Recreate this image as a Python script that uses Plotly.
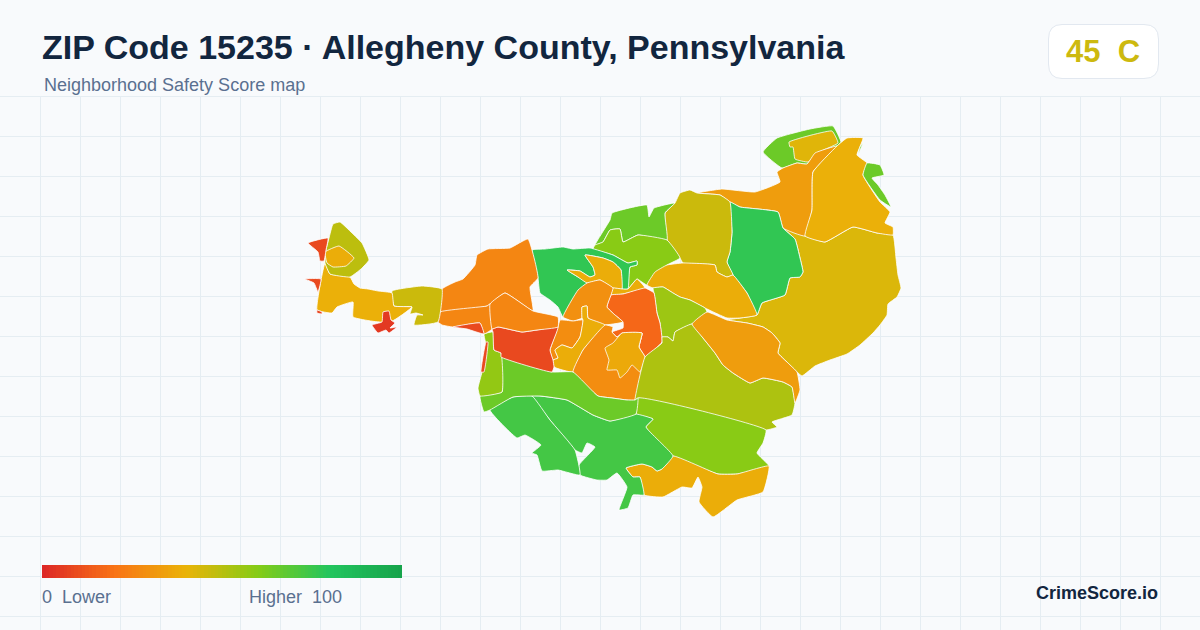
import numpy as np
import plotly.graph_objects as go
from plotly.colors import sample_colorscale

# Score legend colours
score_scale = [
    [0.0, "#dc2626"], [0.2, "#f97316"], [0.4, "#eab308"],
    [0.6, "#84cc16"], [0.8, "#22c55e"], [1.0, "#16a34a"],
]

# Outlines, (x, y) on the 1200x630 canvas
east_large = [(783,228),(805,236),(825,242),(853,227),(877,233),(893,235),(896,258),(898,275),(901,288),(897,297),(888,304),(887,315),(880,325),(873,333),(860,345),(847,354),(830,360),(815,366),(802,376),(797,372),(788,363),(778,353),(780,343),(772,333),(763,327),(747,323),(727,320),(740,318),(757,315),(762,303),(785,295),(790,278),(800,277),(803,272),(800,258),(795,239)]
north_top_green = [(763,152),(777,138),(810,129),(833,126),(841,142),(837,146),(815,153),(807,164),(797,163),(782,168)]
north_top_inset = [(789,142),(832,131),(838,143),(817,153),(808,162),(795,159),(793,147),(790,147)]
north_orange = [(697,193),(722,189),(755,192),(780,182),(777,172),(783,168),(797,163),(807,164),(815,153),(837,146),(813,172),(812,210),(805,236),(783,228),(778,212),(740,207),(730,202),(720,195)]
northeast_yellow = [(847,138),(863,138),(857,155),(867,163),(863,175),(880,202),(890,212),(885,223),(893,227),(893,235),(877,233),(853,227),(825,242),(805,236),(812,210),(813,172),(837,146)]
northeast_strip = [(867,163),(880,165),(884,175),(872,178),(878,185),(885,195),(891,207),(880,200),(863,175)]
northeast_sliver = [(860,147),(863,143),(858,155)]
north_green = [(730,202),(740,207),(778,212),(783,228),(795,239),(800,258),(803,272),(800,277),(790,278),(785,295),(762,303),(757,315),(747,293),(733,275),(727,262),(730,252),(732,232)]
north_olive = [(665,213),(675,203),(680,193),(690,190),(697,193),(720,195),(730,202),(732,232),(730,252),(727,262),(733,275),(727,277),(717,272),(715,265),(683,263),(680,258),(667,240)]
upper_green = [(612,213),(647,205),(649,217),(654,208),(675,203),(665,213),(667,240),(638,235),(623,242),(620,229),(610,230),(603,242),(595,245),(610,220)]
upper_lime = [(595,245),(603,242),(610,230),(620,229),(623,242),(638,235),(667,240),(680,258),(667,265),(647,285),(637,279),(628,289),(630,267),(637,265),(637,261),(628,263),(613,255),(593,249)]
center_right_yellow = [(647,285),(655,272),(667,265),(683,263),(715,265),(717,272),(727,277),(733,275),(747,293),(757,315),(740,318),(727,318),(705,308),(690,300),(680,297),(673,293),(663,287),(653,288)]
river_green = [(532,250),(545,249),(563,247),(573,249),(590,248),(613,255),(628,263),(637,261),(637,265),(630,267),(628,289),(622,289),(621,270),(613,262),(603,258),(585,255),(593,267),(595,275),(590,277),(580,271),(567,270),(578,277),(587,283),(563,317),(558,307),(550,300),(540,293),(538,278)]
river_yellow = [(585,255),(603,258),(613,262),(621,270),(622,289),(613,288),(600,280),(587,283),(578,277),(567,270),(580,271),(590,277),(595,275),(593,267)]
river_yellow_small = [(622,289),(628,289),(637,279),(645,288),(623,294),(611,295),(613,288)]
center_lime = [(653,288),(663,287),(673,293),(680,297),(690,300),(705,308),(707,312),(692,324),(675,332),(673,341),(668,337),(662,337),(660,323),(657,313),(654,293)]
center_red = [(611,295),(623,294),(645,288),(654,293),(657,313),(660,323),(662,342),(645,357),(639,347),(642,333),(622,333),(617,337),(612,332),(623,328),(623,322),(615,315),(607,307)]
center_orange = [(563,317),(578,290),(587,283),(600,280),(613,288),(611,295),(607,307),(615,315),(623,322),(603,325),(588,318),(587,306),(582,307),(582,318),(573,321)]
center_left_orange = [(560,320),(573,321),(583,320),(580,337),(572,348),(562,345),(555,350),(558,358),(553,360),(550,350),(558,327)]
center_left_yellow = [(582,307),(587,306),(588,318),(605,325),(583,350),(573,372),(554,367),(553,360),(558,358),(555,350),(562,345),(572,348),(580,337),(583,320),(582,318)]
lower_orange = [(605,325),(613,327),(612,332),(617,337),(642,333),(639,347),(645,357),(635,400),(627,400),(612,398),(598,396),(573,372),(583,350)]
lower_inset = [(605,348),(613,343),(622,333),(642,333),(639,347),(645,357),(640,372),(632,365),(627,372),(620,378),(617,370),(607,370),(609,360)]
southeast_orange = [(692,324),(707,312),(727,320),(747,323),(763,327),(772,333),(780,343),(778,353),(788,363),(797,372),(800,390),(795,403),(792,387),(783,382),(763,378),(750,383),(733,373),(723,365),(715,353),(703,338)]
southeast_olive = [(645,357),(662,343),(662,337),(668,337),(673,341),(675,332),(692,324),(703,338),(715,353),(723,365),(733,373),(750,383),(763,378),(783,382),(792,387),(795,403),(792,415),(772,422),(777,427),(766,430),(638,398),(635,400)]
south_lime = [(638,398),(766,430),(763,443),(757,453),(769,466),(737,474),(718,474),(673,456),(646,427),(653,419),(636,414)]
south_yellow = [(626,468),(642,464),(652,467),(657,471),(662,469),(673,456),(718,474),(737,474),(769,466),(763,492),(737,500),(713,517),(699,502),(702,487),(698,477),(692,488),(682,487),(663,497),(644,495),(640,477),(633,477)]
south_green = [(532,396),(540,396),(567,400),(593,415),(610,421),(636,414),(653,419),(646,427),(673,456),(662,469),(657,471),(652,467),(642,464),(626,468),(633,477),(640,477),(644,495),(633,495),(628,508),(619,510),(627,487),(617,473),(607,480),(597,480),(580,475),(579,465),(595,447),(587,443),(582,453),(575,450),(550,420)]
southwest_green = [(490,410),(513,397),(532,396),(550,420),(575,450),(580,475),(558,470),(542,471),(537,455),(532,453),(541,445),(525,435),(517,438)]
band_green = [(501,357),(552,372),(573,372),(598,396),(612,398),(627,400),(635,400),(638,398),(636,414),(610,421),(593,415),(567,400),(540,396),(513,397),(490,410),(484,412),(480,396),(502,392)]
west_lime = [(484,334),(493,332),(494,350),(501,353),(502,392),(480,396),(478,388),(482,372),(486,345)]
west_red_strip = [(486,342),(488,342),(484,372),(481,372)]
big_red = [(492,329),(498,327),(522,332),(537,330),(558,327),(550,350),(553,360),(554,367),(552,372),(501,357),(501,353),(494,350),(493,332)]
nw_orange = [(442,289),(455,282),(463,279),(475,265),(477,255),(488,249),(510,248),(528,239),(538,278),(530,287),(533,311),(505,293),(487,306),(440,312)]
nw_orange_low = [(440,312),(487,306),(490,304),(492,329),(484,334),(480,323),(453,327),(442,325),(438,322)]
nw_red_small = [(453,327),(480,323),(484,334),(467,329)]
nw_orange_mid = [(490,304),(505,293),(533,311),(558,317),(558,327),(537,330),(522,332),(498,327),(492,329)]
arm_olive = [(392,291),(422,286),(442,289),(438,322),(414,325),(417,315),(423,315),(416,313),(410,314),(412,307),(394,306)]
arm_yellow = [(325,263),(330,274),(350,277),(354,284),(360,288),(368,289),(378,291),(392,293),(394,306),(412,307),(392,321),(387,312),(383,322),(353,317),(353,302),(337,307),(332,313),(317,310),(321,280)]
arm_red = [(383,312),(389,311),(391,320),(395,323),(390,328),(397,327),(389,333),(386,330),(378,333),(372,325),(382,322)]
tip_olive = [(333,224),(340,222),(352,233),(362,243),(369,260),(361,269),(350,277),(330,274),(325,263),(326,250),(329,238)]
tip_inset = [(325,252),(339,246),(354,258),(346,266),(333,267),(327,263)]
tip_red = [(308,243),(328,238),(326,250),(324,261),(320,261),(318,252)]
tip_red_west = [(305,279),(321,279),(318,292),(314,283)]
tip_red_low = [(317,310),(322,312),(322,314),(317,313)]

districts = [east_large, north_top_green, north_top_inset, north_orange, northeast_yellow, northeast_strip, northeast_sliver,
             north_green, north_olive, upper_green, upper_lime, center_right_yellow, river_green, river_yellow, river_yellow_small,
             center_lime, center_red, center_orange, center_left_orange, center_left_yellow, lower_orange, lower_inset,
             southeast_olive, southeast_orange, south_lime, south_yellow, south_green, southwest_green, band_green, west_lime,
             west_red_strip, big_red, nw_orange, nw_orange_low, nw_red_small, nw_orange_mid, arm_olive, arm_yellow, arm_red,
             tip_olive, tip_inset, tip_red, tip_red_west, tip_red_low]
scores = [43, 65, 42, 33, 39, 65, 65,
          77, 46, 65, 59, 38, 77, 38, 38,
          55, 17, 29, 28, 38, 28, 37,
          52, 33, 59, 38, 73, 73, 65, 57,
          9, 9, 26, 26, 9, 26, 46, 39, 5,
          49, 38, 9, 9, 8]

legend_scores = np.arange(0.5, 100)

fig = go.Figure()

for outline, score in zip(districts, scores):
    xs = [p[0] for p in outline] + [outline[0][0]]
    ys = [p[1] for p in outline] + [outline[0][1]]
    fig.add_trace(go.Scatter(
        x=xs, y=ys, mode="lines", fill="toself",
        fillcolor=sample_colorscale(score_scale, score / 100)[0],
        line=dict(color="#ffffff", width=0.8, shape="spline", smoothing=0.35),
        hoverinfo="skip", showlegend=False,
    ))

# Legend ramp
fig.add_trace(go.Heatmap(
    z=[legend_scores], x0=43.8, dx=3.6, y0=571.5, dy=13,
    colorscale=score_scale, zmin=0, zmax=100, showscale=False, hoverinfo="skip",
))

ink = "#12263f"
muted = "#5a7090"
font = "Liberation Sans"


def label(x, y, text, size, color, anchor="left", bold=False):
    fig.add_annotation(
        x=x, y=y, text=f"<b>{text}</b>" if bold else text, showarrow=False,
        xanchor=anchor, yanchor="middle", borderpad=0, borderwidth=0,
        font=dict(family=font, size=size, color=color),
    )


label(42, 47, "ZIP Code 15235 · Allegheny County, Pennsylvania", 34, ink, bold=True)
label(44, 85, "Neighborhood Safety Score map", 18, muted)
label(1103, 51, "45  C", 31, "#cdb90f", anchor="center", bold=True)
label(42, 597, "0  Lower", 18, muted)
label(342, 597, "Higher  100", 18, muted, anchor="right")
label(1158, 593, "CrimeScore.io", 18, ink, anchor="right", bold=True)

fig.update_layout(
    width=1200, height=630,
    margin=dict(l=0, r=0, t=0, b=0),
    paper_bgcolor="#f8fafc", plot_bgcolor="#f8fafc",
    showlegend=False,
    shapes=[
        # header hides the grid
        dict(type="rect", x0=0, x1=1200, y0=0, y1=96, layer="between",
             fillcolor="#f8fafc", line_width=0),
        # score badge
        dict(type="path", layer="above", fillcolor="#ffffff", line=dict(color="#e2e8f0", width=1),
             path="M 1062 24.5 L 1144 24.5 Q 1158.5 24.5 1158.5 39 L 1158.5 64 Q 1158.5 78.5 1144 78.5 "
                  "L 1062 78.5 Q 1048.5 78.5 1048.5 64 L 1048.5 39 Q 1048.5 24.5 1062 24.5 Z"),
    ],
    xaxis=dict(range=[0, 1200], tick0=0.5, dtick=40, showgrid=True, gridcolor="#e5edf2", gridwidth=1,
               zeroline=False, showticklabels=False, ticks="", fixedrange=True),
    yaxis=dict(range=[630, 0], tick0=16.5, dtick=40, showgrid=True, gridcolor="#e5edf2", gridwidth=1,
               zeroline=False, showticklabels=False, ticks="", fixedrange=True),
)

# the default page leaves an 8px body margin
fig.write_html("out.html", config=dict(displayModeBar=False),
               post_script="document.body.style.margin = '0';")
